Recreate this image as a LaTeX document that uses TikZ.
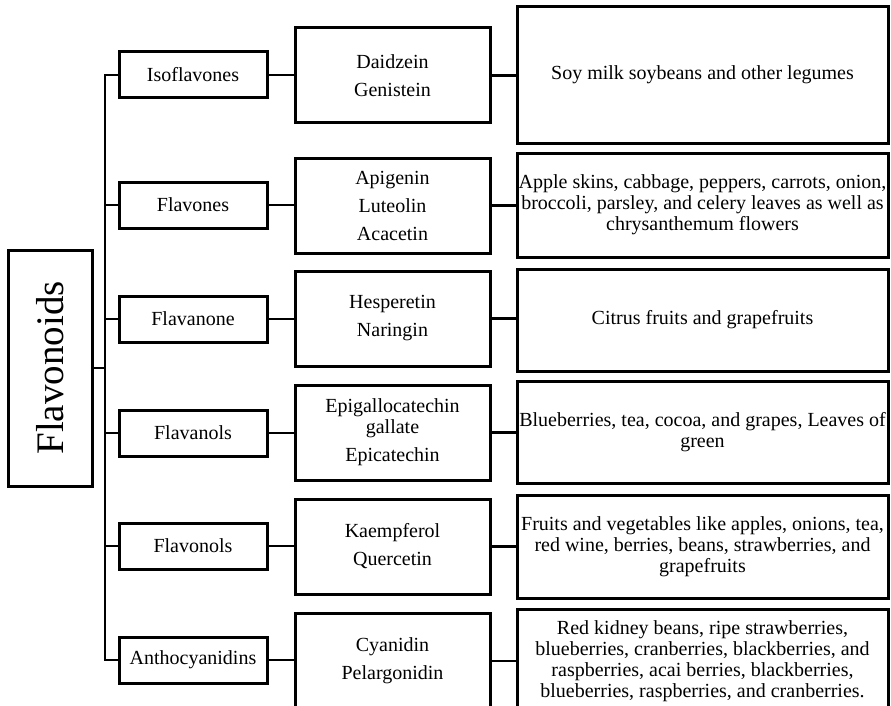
\documentclass[tikz,border=0pt]{standalone}
\usepackage{fontspec}
\setmainfont{Liberation Serif}
\begin{document}
\begin{tikzpicture}[x=1pt,y=-1pt,
  box/.style={draw, line width=3pt, align=center, inner sep=0pt,
              font=\fontsize{20}{21}\selectfont},
  rootbox/.style={box, minimum width=84pt, minimum height=236pt,
                  font=\fontsize{39}{40}\selectfont},
  classbox/.style={box, minimum width=148pt, minimum height=46pt},
  compbox/.style={box, minimum width=195pt, minimum height=95pt},
  srcbox/.style={box, minimum width=371pt},
  link/.style={line width=2.2pt}]
\useasboundingbox (0,0) rectangle (891,706);

% root of the tree
\node[rootbox] (root) at (50,368) {\rotatebox{90}{Flavonoids}};
\coordinate (trunk) at (105,368);

% flavonoid subclasses
\node[classbox] (c1) at (193,75)  {Isoflavones};
\node[classbox] (c2) at (193,205) {Flavones};
\node[classbox] (c3) at (193,319) {Flavanone};
\node[classbox] (c4) at (193,433) {Flavanols};
\node[classbox] (c5) at (193,546) {Flavonols};
\node[classbox] (c6) at (193,660) {Anthocyanidins};

% representative compounds
\node[compbox] (m1) at (392.5,75.5)  {Daidzein\\[7pt]Genistein};
\node[compbox] (m2) at (392.5,205.5) {Apigenin\\[7pt]Luteolin\\[7pt]Acacetin};
\node[compbox] (m3) at (392.5,318.5) {Hesperetin\\[7pt]Naringin};
\node[compbox] (m4) at (392.5,432.5) {Epigallocatechin\\gallate\\[7pt]Epicatechin};
\node[compbox] (m5) at (392.5,546.5) {Kaempferol\\[7pt]Quercetin};
\node[compbox] (m6) at (392.5,661)   {Cyanidin\\[7pt]Pelargonidin};

% dietary sources
\node[srcbox, minimum height=136pt] (s1) at (702.5,75)
  {Soy milk soybeans and other legumes};
\node[srcbox, minimum height=104pt] (s2) at (702.5,205)
  {Apple skins, cabbage, peppers, carrots, onion,\\
   broccoli, parsley, and celery leaves as well as\\
   chrysanthemum flowers};
\node[srcbox, minimum height=102pt] (s3) at (702.5,320)
  {Citrus fruits and grapefruits};
\node[srcbox, minimum height=102pt] (s4) at (702.5,432)
  {Blueberries, tea, cocoa, and grapes, Leaves of\\green};
\node[srcbox, minimum height=103pt] (s5) at (702.5,546.5)
  {Fruits and vegetables like apples, onions, tea,\\
   red wine, berries, beans, strawberries, and\\
   grapefruits};
\node[srcbox, minimum height=105pt] (s6) at (702.5,661.5)
  {Red kidney beans, ripe strawberries,\\
   blueberries, cranberries, blackberries, and\\
   raspberries, acai berries, blackberries,\\
   blueberries, raspberries, and cranberries.};

% tree connectors
\draw[link] (root.east) -- (trunk);
\draw[link] (c1.west) -| (trunk |- c6.west) -- (c6.west);
\foreach \i in {2,...,5} {
  \draw[link] (c\i.west) -- (c\i.west -| trunk);
}
\foreach \i in {1,...,6} {
  \draw[link] (c\i.east) -- (c\i.east -| m\i.west);
  \draw[link] (m\i.east) -- (m\i.east -| s\i.west);
}
\end{tikzpicture}
\end{document}
